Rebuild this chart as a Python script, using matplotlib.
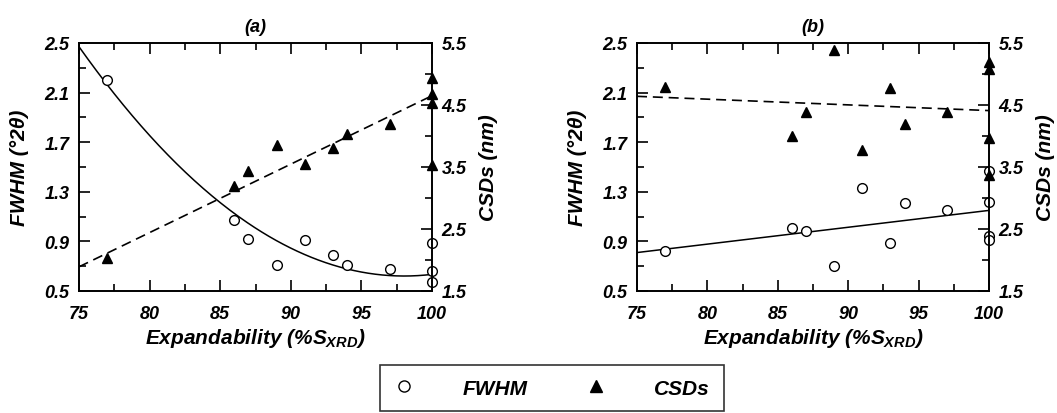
import numpy as np
import matplotlib
matplotlib.use('Agg')
import matplotlib.pyplot as plt
from matplotlib.lines import Line2D
from matplotlib.ticker import MultipleLocator, FormatStrFormatter
from matplotlib.font_manager import FontProperties

plt.rcParams['font.family'] = ['Liberation Sans', 'DejaVu Sans']
plt.rcParams['font.weight'] = 'bold'
plt.rcParams['font.style'] = 'italic'
plt.rcParams['axes.labelweight'] = 'bold'
plt.rcParams['axes.titleweight'] = 'bold'
plt.rcParams['mathtext.fontset'] = 'custom'
plt.rcParams['mathtext.it'] = 'Liberation Sans:bold:italic'
plt.rcParams['mathtext.rm'] = 'Liberation Sans:bold'
plt.rcParams['mathtext.bf'] = 'Liberation Sans:bold'

# panel (a)
fwhm_x_a = [77, 86, 87, 89, 91, 93, 94, 97, 100, 100, 100]
fwhm_a = [2.20, 1.07, 0.92, 0.71, 0.91, 0.79, 0.71, 0.68, 0.89, 0.66, 0.57]
csd_x_a = [77, 86, 87, 89, 91, 93, 94, 97, 100, 100, 100, 100]
csd_a = [2.04, 3.20, 3.43, 3.85, 3.55, 3.80, 4.04, 4.20, 4.93, 4.67, 4.53, 3.54]

# panel (b)
fwhm_x_b = [77, 86, 87, 89, 91, 93, 94, 97, 100, 100, 100, 100]
fwhm_b = [0.82, 1.01, 0.98, 0.70, 1.33, 0.89, 1.21, 1.15, 1.47, 1.22, 0.94, 0.91]
csd_x_b = [77, 86, 87, 89, 91, 93, 94, 97, 100, 100, 100, 100]
csd_b = [4.79, 4.00, 4.39, 5.38, 3.78, 4.77, 4.19, 4.39, 5.20, 5.08, 3.97, 3.37]

# trend lines
curve_x_a = [75, 80, 85, 90, 95, 100]
curve_fwhm_a = [2.47, 1.76, 1.20, 0.85, 0.66, 0.63]
line_x = [75, 100]
line_csd_a = [1.89, 4.65]
line_fwhm_b = [0.81, 1.15]
line_csd_b = [4.64, 4.41]

# axis ticks
x_ticks = [75, 80, 85, 90, 95, 100]
fwhm_ticks = [0.5, 0.9, 1.3, 1.7, 2.1, 2.5]
csd_ticks = [1.5, 2.5, 3.5, 4.5, 5.5]

bi = FontProperties(family=['Liberation Sans', 'DejaVu Sans'], weight='bold', style='italic')


def style_axes(ax, ax2):
    ax.set_xlim(75, 100)
    ax.set_ylim(0.5, 2.5)
    ax2.set_ylim(1.5, 5.5)
    ax.set_xticks(x_ticks)
    ax.xaxis.set_minor_locator(MultipleLocator(2.5))
    ax.set_yticks(fwhm_ticks)
    ax.set_yticks([0.7, 1.1, 1.5, 1.9, 2.3], minor=True)
    ax2.set_yticks(csd_ticks)
    ax2.set_yticks([2.0, 3.0, 4.0, 5.0], minor=True)
    ax.yaxis.set_major_formatter(FormatStrFormatter('%.1f'))
    ax2.yaxis.set_major_formatter(FormatStrFormatter('%.1f'))
    ax.tick_params(axis='x', which='both', direction='in', top=True, width=1.2, labelsize=13, pad=10)
    ax.tick_params(axis='y', which='both', direction='in', right=False, width=1.2, labelsize=13, pad=7)
    ax2.tick_params(axis='y', which='both', direction='in', width=1.2, labelsize=13, pad=7)
    for a in (ax, ax2):
        a.tick_params(which='major', length=8)
        a.tick_params(which='minor', length=5)
        for sp in a.spines.values():
            sp.set_linewidth(1.2)
    ax.set_xlabel(r'Expandability (%$S_{XRD}$)', fontproperties=bi, fontsize=15, labelpad=3)
    ax.set_ylabel('FWHM (°2θ)', fontproperties=bi, fontsize=15, labelpad=11)
    ax2.set_ylabel('CSDs (nm)', fontproperties=bi, fontsize=15, rotation=90, labelpad=9)


fig = plt.figure(figsize=(10.57, 4.14), dpi=100)
ax_a = fig.add_axes([79 / 1057, 1 - 292 / 414, 353 / 1057, 248 / 414])
ax_b = fig.add_axes([637 / 1057, 1 - 292 / 414, 352 / 1057, 248 / 414])
ax_a2 = ax_a.twinx()
ax_b2 = ax_b.twinx()

# (a)
coef = np.polyfit(curve_x_a, curve_fwhm_a, 2)
xs = np.linspace(75, 100, 200)
ax_a.plot(xs, np.polyval(coef, xs), color='black', lw=1.1)
ax_a.plot(fwhm_x_a, fwhm_a, 'o', mfc='white', mec='black', mew=1.0, ms=7, clip_on=False)
ax_a2.plot(line_x, line_csd_a, color='black', lw=1.2, dashes=(6, 3.5))
ax_a2.plot(csd_x_a, csd_a, '^', color='black', ms=7, clip_on=False)
ax_a.set_title('(a)', fontproperties=bi, fontsize=13, pad=9)

# (b)
ax_b.plot(line_x, line_fwhm_b, color='black', lw=1.1)
ax_b.plot(fwhm_x_b, fwhm_b, 'o', mfc='white', mec='black', mew=1.0, ms=7, clip_on=False)
ax_b2.plot(line_x, line_csd_b, color='black', lw=1.2, dashes=(6, 3.5))
ax_b2.plot(csd_x_b, csd_b, '^', color='black', ms=7, clip_on=False)
ax_b.set_title('(b)', fontproperties=bi, fontsize=13, pad=9)

for ax, ax2 in ((ax_a, ax_a2), (ax_b, ax_b2)):
    style_axes(ax, ax2)

handles = [Line2D([], [], ls='none', marker='o', mfc='white', mec='black', ms=8),
           Line2D([], [], ls='none', marker='^', color='black', ms=8)]
leg_font = FontProperties(family=['Liberation Sans', 'DejaVu Sans'], weight='bold', style='italic', size=15)
leg = fig.legend(handles, ['FWHM', 'CSDs'], loc='upper center', bbox_to_anchor=(0.522, 0.116),
                 ncol=2, frameon=True, fancybox=False, edgecolor='black', prop=leg_font,
                 handletextpad=2.3, columnspacing=2.8, borderpad=0.65, handlelength=1.0,
                 borderaxespad=0)
leg.get_frame().set_linewidth(1.2)

# make sure every tick label is bold italic
fig.canvas.draw()
for a in (ax_a, ax_a2, ax_b, ax_b2):
    for t in a.get_xticklabels() + a.get_yticklabels():
        t.set_fontstyle('italic')
        t.set_fontweight('bold')

fig.savefig('out.png', dpi=100)
